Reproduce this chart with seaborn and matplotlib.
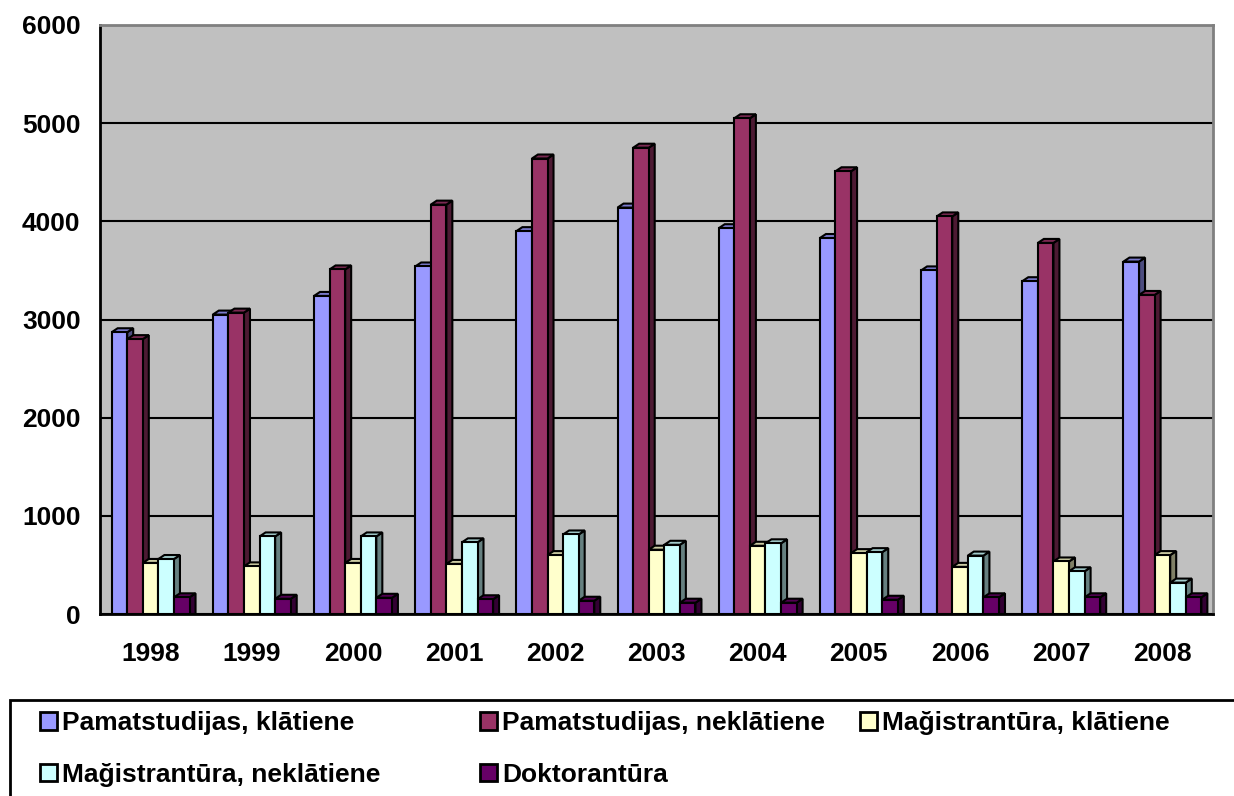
import numpy as np
import pandas as pd
import matplotlib
matplotlib.use("Agg")
import matplotlib.pyplot as plt
from matplotlib.patches import Polygon, Rectangle
from matplotlib.colors import to_rgb
import seaborn as sns

years = ["1998", "1999", "2000", "2001", "2002", "2003", "2004", "2005", "2006", "2007", "2008"]
series = ["Pamatstudijas, klātiene", "Pamatstudijas, neklātiene", "Mağistrantūra, klātiene",
          "Mağistrantūra, neklātiene", "Doktorantūra"]
pamat_klat = [2870, 3050, 3240, 3540, 3900, 4140, 3930, 3830, 3500, 3390, 3590]
pamat_neklat = [2800, 3070, 3510, 4170, 4640, 4750, 5050, 4510, 4050, 3780, 3250]
mag_klat = [520, 485, 520, 510, 600, 655, 695, 620, 480, 535, 600]
mag_neklat = [560, 790, 790, 730, 810, 705, 720, 630, 595, 435, 320]
doktor = [170, 155, 165, 150, 135, 115, 115, 145, 170, 170, 170]
colors = ["#9999FF", "#993366", "#FFFFCC", "#CCFFFF", "#660066"]

values = [pamat_klat, pamat_neklat, mag_klat, mag_neklat, doktor]
df = pd.DataFrame({
    "year": np.tile(years, len(series)),
    "series": np.repeat(series, len(years)),
    "value": np.concatenate(values),
})

sns.set_style("white")
plt.rcParams["font.family"] = ["Liberation Sans", "DejaVu Sans"]
plt.rcParams["font.weight"] = "bold"
plt.rcParams["text.color"] = "black"
FS = 19

fig = plt.figure(figsize=(12.34, 7.96), dpi=100)
ax = fig.add_axes([100 / 1234, 1 - 614 / 796, 1113 / 1234, 589 / 796])
ax.set_facecolor("#C0C0C0")

sns.barplot(data=df, x="year", y="value", hue="series", hue_order=series, order=years,
            palette=colors, saturation=1, width=0.77, edgecolor="black", linewidth=1.5,
            ax=ax)

# fake 3D: top and side faces for every bar
dx = 6 / 101.2
dy = 4 * 6000 / 589
bars = sorted([p for cont in ax.containers for p in cont], key=lambda p: p.get_x())
for i, p in enumerate(bars):
    x0, w, h = p.get_x(), p.get_width(), p.get_height()
    c = np.array(to_rgb(p.get_facecolor()))
    z = 3 + i * 0.01
    p.set_zorder(z)
    top = Polygon([(x0, h), (x0 + dx, h + dy), (x0 + w + dx, h + dy), (x0 + w, h)],
                  closed=True, facecolor=c * 0.8, edgecolor="black", lw=1.5, zorder=z - 0.005)
    side = Polygon([(x0 + w, 0), (x0 + w + dx, 0), (x0 + w + dx, h + dy), (x0 + w, h)],
                   closed=True, facecolor=c * 0.5, edgecolor="black", lw=1.5, zorder=z - 0.005)
    ax.add_patch(side)
    ax.add_patch(top)

handles, labels = ax.get_legend_handles_labels()
ax.get_legend().remove()

ax.set_xlim(-0.5, len(years) - 0.5)
ax.set_ylim(0, 6000)
ax.set_yticks(range(0, 6001, 1000))
ax.yaxis.grid(True, color="black", lw=1.5)
ax.set_axisbelow(True)
ax.set_xlabel("")
ax.set_ylabel("")

ax.set_xticks(np.arange(-0.5, len(years), 1), minor=True)
ax.tick_params(axis="x", which="major", length=0, pad=20, labelsize=FS, labelcolor="black")
ax.tick_params(axis="x", which="minor", length=8, width=2, color="black", direction="out")
ax.tick_params(axis="y", length=8, width=2, color="black", direction="out", pad=6,
               labelsize=FS, labelcolor="black")
for lab in ax.get_xticklabels() + ax.get_yticklabels():
    lab.set_fontweight("bold")

for s in ["left", "bottom"]:
    ax.spines[s].set_color("black")
    ax.spines[s].set_linewidth(2)
for s in ["top", "right"]:
    ax.spines[s].set_color("#808080")
    ax.spines[s].set_linewidth(2)

fig.patches.append(Rectangle((10 / 1234, -0.02), 1.1, (796 - 700) / 796 + 0.02,
                             transform=fig.transFigure, fill=False, edgecolor="black", lw=2))

for hd in handles:
    hd.set_edgecolor("black")
    hd.set_linewidth(2)

# legend laid out in three equal columns, rows filled left to right
col_x = [40, 480, 860]
cols = [[0, 3], [1, 4], [2]]
for cx, idx in zip(col_x, cols):
    fig.legend([handles[k] for k in idx], [labels[k] for k in idx], loc="upper left",
               bbox_to_anchor=(cx / 1234, 1 - 711 / 796), frameon=False,
               prop={"weight": "bold", "size": FS}, labelcolor="black",
               handlelength=0.65, handleheight=0.65, handletextpad=0.2,
               labelspacing=1.05, borderpad=0, borderaxespad=0)

fig.savefig("out.png", dpi=100)
